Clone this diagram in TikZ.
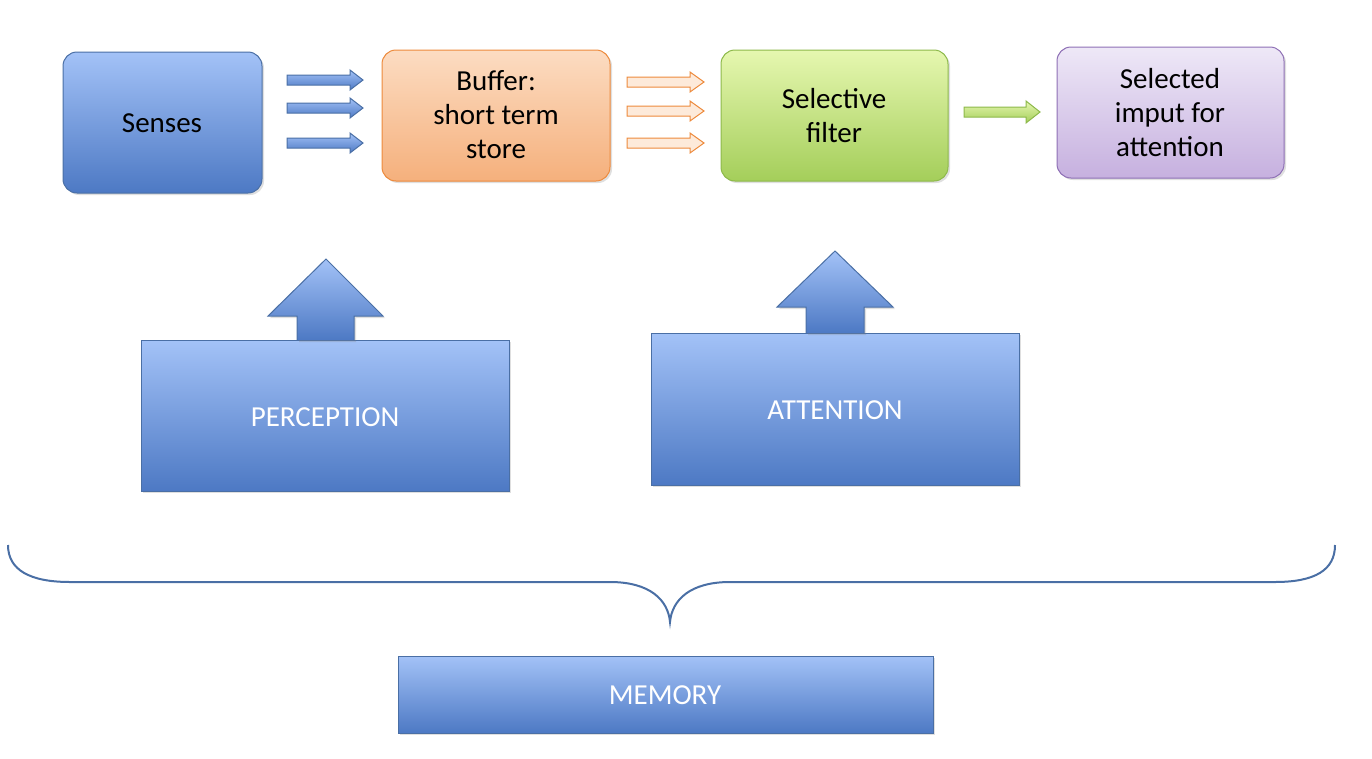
\documentclass[tikz,border=0pt]{standalone}
\usepackage{fontspec}
\setmainfont{Carlito}
\usetikzlibrary{shadows}
\definecolor{bT}{HTML}{A3C2F7}\definecolor{bB}{HTML}{4D79C4}\definecolor{bD}{HTML}{4A6FA5}
\definecolor{oT}{HTML}{FCDCC2}\definecolor{oB}{HTML}{F5B07C}\definecolor{oD}{HTML}{ED8A3C}
\definecolor{gT}{HTML}{E6F7B0}\definecolor{gB}{HTML}{A4CE5A}\definecolor{gD}{HTML}{8DB94A}
\definecolor{pT}{HTML}{EEE8F7}\definecolor{pB}{HTML}{C6B0DF}\definecolor{pD}{HTML}{8E6FB5}
\begin{document}
\begin{tikzpicture}[x=1pt,y=-1pt,
 box/.style={rounded corners=14pt,draw=#1D,line width=1pt,top color=#1T,bottom color=#1B,font=\fontsize{29}{34}\selectfont,align=center,drop shadow={opacity=0.25,shadow xshift=2pt,shadow yshift=-2pt}},
 big/.style={draw=bD,line width=1pt,top color=bT,bottom color=bB,font=\fontsize{29}{34}\selectfont,text=white,drop shadow={opacity=0.25,shadow xshift=2pt,shadow yshift=-2pt}},
 sarr/.style={draw=#1D,line width=1pt,top color=#1T,bottom color=#1B}]
\useasboundingbox (0,0) rectangle (1372,758);
\path[box=b] (63,52) rectangle (262,193);
\node (senses) at (162,123) {\fontsize{29}{34}\selectfont Senses};
\path[box=o] (382,50) rectangle (610,181);
\node[align=center,font=\fontsize{29}{34}\selectfont] (buffer) at (496,115) {Buffer:\\short term\\store};
\path[box=g] (721,50) rectangle (948,181);
\node[align=center,font=\fontsize{29}{34}\selectfont] (filter) at (834,116) {Selective\\filter};
\path[box=p] (1057,47) rectangle (1284,178);
\node[align=center,font=\fontsize{29}{34}\selectfont] (sel) at (1170,113) {Selected\\imput for\\attention};
% small arrows
\foreach \y in {80,108,143}{
 \path[sarr=b] (287,\y-5) -- (350,\y-5) -- (350,\y-10) -- (363,\y) -- (350,\y+10) -- (350,\y+5) -- (287,\y+5) -- cycle;}
\foreach \y in {82,111,143}{
 \path[draw=oD,line width=1pt,fill=oT!60] (627,\y-5) -- (690,\y-5) -- (690,\y-10) -- (704,\y) -- (690,\y+10) -- (690,\y+5) -- (627,\y+5) -- cycle;}
\path[sarr=g,draw=gD] (964,107) -- (1026,107) -- (1026,101) -- (1040,112) -- (1026,123) -- (1026,117) -- (964,117) -- cycle;
% block arrows
\path[big] (141,340) rectangle (509,491);
\path[big] (297,340) -- (297,316) -- (268,316) -- (326,259) -- (383,316) -- (354,316) -- (354,340);
\node[text=white,font=\fontsize{29}{34}\selectfont] (perc) at (325,417) {PERCEPTION};
\path[big] (651,333) rectangle (1019,485);
\path[big] (806,333) -- (806,307) -- (777,307) -- (835,251) -- (893,307) -- (864,307) -- (864,333);
\node[text=white,font=\fontsize{29}{34}\selectfont] (att) at (835,410) {ATTENTION};
% brace
\draw[bD,line width=2pt] (8,545) .. controls (8,570) and (30,582) .. (70,582) -- (610,582) .. controls (650,582) and (668,600) .. (670,622) .. controls (672,600) and (690,582) .. (730,582) -- (1275,582) .. controls (1315,582) and (1335,570) .. (1335,545);
\path[big] (398,656) rectangle (933,733);
\node[text=white,font=\fontsize{29}{34}\selectfont] (mem) at (665,695) {MEMORY};
\end{tikzpicture}
\end{document}
